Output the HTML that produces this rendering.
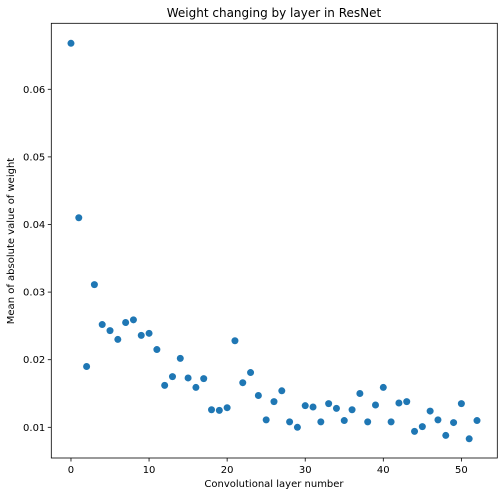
<!DOCTYPE html>
<html><head><meta charset="utf-8"><style>
body{margin:0;background:#fff;}
svg text{font-family:"DejaVu Sans","Liberation Sans",sans-serif;fill:#000;}
</style></head><body>
<svg id="chart" width="504" height="496">
<text x="274" y="17" font-size="12" text-anchor="middle">Weight changing by layer in ResNet</text>
<g id="marks"></g>
<g id="axes"></g>
<rect x="51.3" y="23.3" width="446" height="434.7" fill="none" stroke="#000" stroke-width="0.8"/>
<text x="274" y="487" font-size="10" text-anchor="middle">Convolutional layer number</text>
<text transform="translate(14,241) rotate(-90)" font-size="10" text-anchor="middle">Mean of absolute value of weight</text>
</svg>
<script>
const layers=[0,1,2,3,4,5,6,7,8,9,10,11,12,13,14,15,16,17,18,19,20,21,22,23,24,25,26,27,28,29,30,31,32,33,34,35,36,37,38,39,40,41,42,43,44,45,46,47,48,49,50,51,52];
const weights=[0.0668,0.0410,0.0190,0.0311,0.0252,0.0243,0.0230,0.0255,0.0259,0.0236,0.0239,0.0215,0.0162,0.0175,0.0202,0.0173,0.0159,0.0172,0.0126,0.0125,0.0129,0.0228,0.0166,0.0181,0.0147,0.0111,0.0138,0.0154,0.0108,0.0100,0.0132,0.0130,0.0108,0.0135,0.0128,0.0110,0.0126,0.0150,0.0108,0.0133,0.0159,0.0108,0.0136,0.0138,0.0094,0.0101,0.0124,0.0111,0.0088,0.0107,0.0135,0.0083,0.0110];
const xTicks=[0,10,20,30,40,50];
const yTicks=[0.01,0.02,0.03,0.04,0.05,0.06];
const X0=51.3,X1=497.3,Y0=458,Y1=23.3;
const xMin=-2.52,xMax=54.6,yMin=0.00546,yMax=0.06976;
function sx(v){return X0+(v-xMin)/(xMax-xMin)*(X1-X0);}
function sy(v){return Y0-(v-yMin)/(yMax-yMin)*(Y0-Y1);}
const NS="http://www.w3.org/2000/svg";
const marks=document.getElementById('marks'),axes=document.getElementById('axes');
layers.forEach((l,i)=>{
 const c=document.createElementNS(NS,'circle');
 c.setAttribute('cx',sx(l));c.setAttribute('cy',sy(weights[i]));c.setAttribute('r',3.5);c.setAttribute('fill','#1f77b4');
 
 
 marks.appendChild(c);
});
xTicks.forEach(t=>{
 const x=sx(t);
 const ln=document.createElementNS(NS,'line');
 ln.setAttribute('x1',x);ln.setAttribute('x2',x);ln.setAttribute('y1',Y0);ln.setAttribute('y2',Y0+3.5);ln.setAttribute('stroke','#000');ln.setAttribute('stroke-width','0.8');
 
 
 axes.appendChild(ln);
 const tx=document.createElementNS(NS,'text');
 tx.setAttribute('x',x);tx.setAttribute('y',Y0+15);tx.setAttribute('font-size','10');tx.setAttribute('text-anchor','middle');tx.textContent=t;
 
 
 axes.appendChild(tx);
});
yTicks.forEach(t=>{
 const y=sy(t);
 const ln=document.createElementNS(NS,'line');
 ln.setAttribute('x1',X0-3.5);ln.setAttribute('x2',X0);ln.setAttribute('y1',y);ln.setAttribute('y2',y);ln.setAttribute('stroke','#000');ln.setAttribute('stroke-width','0.8');
 
 
 axes.appendChild(ln);
 const tx=document.createElementNS(NS,'text');
 tx.setAttribute('x',X0-6);tx.setAttribute('y',y+3.5);tx.setAttribute('font-size','10');tx.setAttribute('text-anchor','end');tx.textContent=t.toFixed(2);
 
 
 axes.appendChild(tx);
});
</script>
</body></html>
